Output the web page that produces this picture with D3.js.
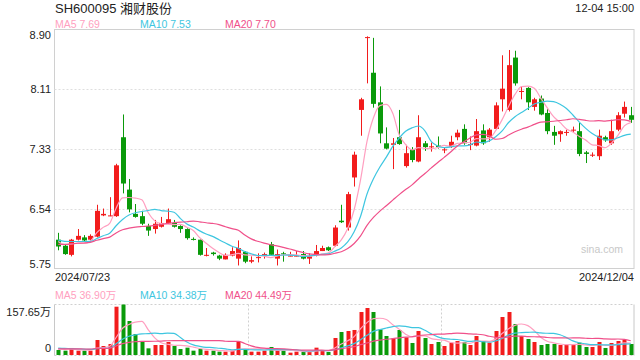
<!DOCTYPE html>
<html>
<head>
<meta charset="utf-8">
<script src="https://cdn.jsdelivr.net/npm/d3@7"></script>
<style>
    html, body { margin: 0; padding: 0; background: #fff; }
    svg { display: block; font-family: "Liberation Sans", Arial, "Noto Sans CJK SC", sans-serif; }
</style>
</head>
<body>
<svg id="chart"></svg>
<script>
// Daily bars, 2024/07/23 -> 2024/12/04
const open = [
    6.13, 6.05, 5.93, 6.13, 6.16, 6.13, 6.17, 6.45, 6.44, 6.44,
    7.48, 6.79, 6.47, 6.44, 6.31, 6.27, 6.30, 6.35, 6.35, 6.31,
    6.27, 6.14, 6.13, 5.92, 5.96, 5.92, 5.87, 5.92, 5.88, 5.97,
    5.84, 5.89, 5.92, 6.07, 5.88, 5.95, 5.91, 5.91, 5.94, 5.88,
    5.93, 5.98, 6.03, 6.05, 6.38, 6.29, 6.95, 7.84, 8.79, 8.33,
    7.94, 7.40, 7.38, 7.48, 7.10, 7.32, 7.16, 7.40, 7.35, 7.37,
    7.31, 7.35, 7.48, 7.59, 7.38, 7.37, 7.57, 7.48, 7.59, 7.98,
    7.84, 8.53, 8.08, 8.13, 7.88, 7.99, 7.80, 7.55, 7.52, 7.54,
    7.57, 7.56, 7.28, 7.24, 7.23, 7.48, 7.40, 7.58, 7.79, 7.77
];
const high = [
    6.22, 6.06, 6.14, 6.27, 6.19, 6.20, 6.59, 6.54, 6.69, 7.13,
    7.78, 6.93, 6.60, 6.51, 6.34, 6.39, 6.43, 6.54, 6.39, 6.32,
    6.28, 6.16, 6.13, 6.02, 5.97, 5.93, 5.95, 6.03, 6.12, 5.98,
    5.91, 5.95, 5.96, 6.10, 6.00, 5.97, 5.97, 5.98, 5.98, 5.95,
    6.06, 6.05, 6.04, 6.32, 6.59, 6.76, 7.29, 8.00, 8.81, 8.79,
    8.15, 7.61, 7.47, 7.84, 7.38, 7.35, 7.77, 7.43, 7.41, 7.49,
    7.35, 7.50, 7.58, 7.65, 7.49, 7.72, 7.65, 7.60, 7.94, 8.56,
    8.63, 8.62, 8.15, 8.14, 8.00, 8.03, 7.85, 7.63, 7.57, 7.58,
    7.62, 7.67, 7.30, 7.28, 7.58, 7.50, 7.71, 7.81, 7.95, 7.88
];
const low = [
    5.99, 5.93, 5.91, 6.12, 6.10, 6.12, 6.16, 6.44, 6.44, 6.43,
    6.74, 6.49, 6.42, 6.32, 6.18, 6.21, 6.29, 6.34, 6.29, 6.22,
    6.13, 6.12, 5.92, 5.91, 5.92, 5.86, 5.87, 5.91, 5.79, 5.82,
    5.82, 5.83, 5.88, 5.92, 5.79, 5.84, 5.91, 5.91, 5.87, 5.81,
    5.91, 5.98, 5.98, 6.04, 6.35, 6.25, 6.83, 7.50, 8.19, 7.87,
    7.40, 7.32, 7.06, 7.38, 7.08, 7.15, 7.15, 7.30, 7.29, 7.33,
    7.27, 7.34, 7.44, 7.38, 7.31, 7.36, 7.38, 7.42, 7.58, 7.82,
    7.82, 8.16, 7.98, 7.84, 7.83, 7.77, 7.52, 7.38, 7.42, 7.50,
    7.54, 7.23, 7.14, 7.22, 7.18, 7.42, 7.38, 7.56, 7.74, 7.67
];
const close = [
    6.04, 5.94, 6.13, 6.18, 6.12, 6.18, 6.51, 6.47, 6.45, 7.11,
    6.87, 6.53, 6.43, 6.34, 6.25, 6.34, 6.35, 6.40, 6.30, 6.27,
    6.15, 6.13, 5.93, 5.93, 5.94, 5.88, 5.93, 5.98, 6.02, 5.84,
    5.86, 5.90, 5.94, 5.93, 5.94, 5.94, 5.92, 5.92, 5.88, 5.91,
    5.98, 6.02, 5.99, 6.29, 6.36, 6.73, 7.25, 7.98, 8.80, 7.92,
    7.53, 7.33, 7.40, 7.39, 7.27, 7.18, 7.48, 7.35, 7.36, 7.35,
    7.32, 7.42, 7.54, 7.40, 7.39, 7.56, 7.40, 7.58, 7.90, 8.12,
    8.43, 8.19, 8.09, 7.94, 7.98, 7.78, 7.56, 7.50, 7.56, 7.55,
    7.58, 7.26, 7.26, 7.25, 7.50, 7.44, 7.56, 7.77, 7.88, 7.71
];
// volume, in 万
const volume = [
    15.6, 13.5, 21.9, 13.5, 13.5, 13.5, 46.8, 28.1, 34.3, 150.8,
    157.65, 106.1, 65.6, 43.7, 20.8, 31.2, 31.2, 40.6, 28.1, 18.7,
    22.9, 13.5, 18.7, 13.5, 13.5, 10.4, 10.4, 13.5, 41.6, 18.7,
    10.4, 10.4, 13.5, 25.0, 13.5, 13.5, 7.3, 10.4, 10.4, 10.4,
    22.9, 13.5, 9.4, 53.1, 71.8, 74.9, 78.1, 134.2, 146.7, 134.2,
    80.1, 59.3, 52.0, 78.1, 55.2, 37.5, 74.9, 53.1, 34.3, 40.6,
    28.1, 38.5, 43.7, 40.6, 31.2, 59.3, 43.7, 38.5, 74.9, 118.6,
    134.2, 96.8, 59.3, 50.0, 40.6, 31.2, 34.3, 34.3, 31.2, 31.2,
    31.2, 38.5, 25.0, 25.0, 40.6, 21.9, 37.5, 43.7, 46.8, 34.3
];
// sessions before the window, only used to start the moving averages
const priorCloses = [
    5.95, 5.98, 6.02, 6.05, 6.00, 5.97, 6.03, 6.06, 6.00, 6.05,
    6.10, 6.15, 6.18, 6.12, 6.16, 6.14, 6.10, 6.12, 6.13
];
const priorVolumes = [
    16, 18, 15, 20, 17, 14, 19, 16, 18, 15,
    22, 25, 20, 24, 26, 21, 19, 23, 18
];

const priceTicks = [8.90, 8.11, 7.33, 6.54, 5.75];
const volumeTicks = [157.65, 0];
const dateLabels = ["2024/07/23", "2024/12/04"];
const maPeriods = [5, 10, 20];
const maColors = ["#ff9fc0", "#3ec6e0", "#f0508a"];
const priceMaLabels = ["7.69", "7.53", "7.70"];
const volumeMaLabels = ["36.90万", "34.38万", "44.49万"];

const width = 640, height = 360;
const svg = d3.select("#chart").attr("width", width).attr("height", height);

const left = 54.5, right = 634;
const up = "#f21c1c", down = "#0a9a0a";

const x = d3.scaleBand().domain(d3.range(close.length)).range([55, right]);
const cx = i => x(i) + x.bandwidth() / 2;
const y = d3.scaleLinear().domain([5.75, 8.90]).range([268.5, 29.5]);
const yv = d3.scaleLinear().domain([0, 157.65]).range([355, 304.5]);

function movingAvg(prior, values, n) {
    const all = prior.concat(values);
    return values.map((_, i) => {
        const end = prior.length + i + 1;
        return d3.mean(all.slice(end - n, end));
    });
}

// header
svg.append("text").attr("x", 55).attr("y", 13).attr("font-size", 13).attr("fill", "#222")
    .text("SH600095 湘财股份");
svg.append("text").attr("x", right).attr("y", 12).attr("font-size", 11).attr("fill", "#222")
    .attr("text-anchor", "end").text("12-04 15:00");

// legends
const legendX = [55, 140, 225];
maPeriods.forEach((p, k) => {
    svg.append("text").attr("x", legendX[k]).attr("y", 27.5).attr("font-size", 10.5)
        .attr("fill", maColors[k]).text(`MA${p} ${priceMaLabels[k]}`);
    svg.append("text").attr("x", legendX[k]).attr("y", 299).attr("font-size", 10.5)
        .attr("fill", maColors[k]).text(`MA${p} ${volumeMaLabels[k]}`);
});

// price panel frame and grid
svg.append("rect").attr("x", left).attr("y", 29.5).attr("width", right - left).attr("height", 239)
    .attr("fill", "none").attr("stroke", "#d0d0d0");
svg.selectAll(".grid").data(priceTicks.slice(1, -1)).enter().append("line")
    .attr("x1", left).attr("x2", right)
    .attr("y1", d => Math.round(y(d)) + 0.5).attr("y2", d => Math.round(y(d)) + 0.5)
    .attr("stroke", "#dedede").attr("stroke-dasharray", "2,2");

svg.selectAll(".ptick").data(priceTicks).enter().append("text")
    .attr("x", 51).attr("text-anchor", "end").attr("font-size", 11).attr("fill", "#222")
    .attr("y", (d, i) => i === 0 ? y(d) + 9 : i === priceTicks.length - 1 ? y(d) - 1 : y(d) + 4)
    .text(d => d.toFixed(2));

svg.append("text").attr("x", 55).attr("y", 281).attr("font-size", 11).attr("fill", "#222").text(dateLabels[0]);
svg.append("text").attr("x", right).attr("y", 281).attr("font-size", 11).attr("fill", "#222")
    .attr("text-anchor", "end").text(dateLabels[1]);

svg.append("text").attr("x", 623).attr("y", 253).attr("font-size", 10.5).attr("fill", "#c8c8c8")
    .attr("text-anchor", "end").text("sina.com");

// candles
const candles = svg.selectAll(".candle").data(d3.range(close.length)).enter()
    .append("g").attr("class", "candle");
candles.append("line")
    .attr("x1", i => Math.round(cx(i)) + 0.5).attr("x2", i => Math.round(cx(i)) + 0.5)
    .attr("y1", i => y(high[i])).attr("y2", i => y(low[i]))
    .attr("stroke", i => close[i] >= open[i] ? up : down);
candles.append("rect")
    .attr("x", i => Math.round(cx(i)) - 2).attr("width", 5)
    .attr("y", i => y(Math.max(open[i], close[i])))
    .attr("height", i => Math.max(1, Math.abs(y(open[i]) - y(close[i]))))
    .attr("fill", i => close[i] >= open[i] ? up : down);

// moving averages
const line = d3.line().x((d, i) => cx(i)).y(d => y(d)).curve(d3.curveMonotoneX);
const vline = d3.line().x((d, i) => cx(i)).y(d => yv(d)).curve(d3.curveMonotoneX);
maPeriods.forEach((p, k) => {
    svg.append("path").datum(movingAvg(priorCloses, close, p))
        .attr("d", line).attr("fill", "none").attr("stroke", maColors[k]).attr("stroke-width", 1.2);
});

// volume panel
svg.append("line").attr("x1", left).attr("x2", left).attr("y1", 304.5).attr("y2", 355.5).attr("stroke", "#c8c8c8");
svg.append("line").attr("x1", right).attr("x2", right).attr("y1", 304.5).attr("y2", 355.5).attr("stroke", "#c8c8c8");
[304.5, 355.5].forEach(v => {
    svg.append("line").attr("x1", left).attr("x2", right).attr("y1", v).attr("y2", v)
        .attr("stroke", "#d0d0d0").attr("stroke-dasharray", "2,2");
});
[30, 60].forEach(i => {
    svg.append("line").attr("x1", Math.round(x(i)) + 0.5).attr("x2", Math.round(x(i)) + 0.5)
        .attr("y1", 304.5).attr("y2", 355.5).attr("stroke", "#d0d0d0").attr("stroke-dasharray", "2,2");
});
svg.selectAll(".vtick").data(volumeTicks).enter().append("text")
    .attr("x", 51).attr("text-anchor", "end").attr("font-size", 11).attr("fill", "#222")
    .attr("y", (d, i) => i === 0 ? yv(d) + 11 : yv(d) - 3)
    .text(d => d === 0 ? "0" : d.toFixed(2) + "万");

svg.selectAll(".vol").data(d3.range(volume.length)).enter().append("rect")
    .attr("x", i => Math.round(cx(i)) - 1.5).attr("width", 4)
    .attr("y", i => yv(volume[i])).attr("height", i => yv(0) - yv(volume[i]))
    .attr("fill", i => close[i] >= open[i] ? up : down);

maPeriods.forEach((p, k) => {
    svg.append("path").datum(movingAvg(priorVolumes, volume, p))
        .attr("d", vline).attr("fill", "none").attr("stroke", maColors[k]).attr("stroke-width", 1.2);
});
</script>
</body>
</html>
